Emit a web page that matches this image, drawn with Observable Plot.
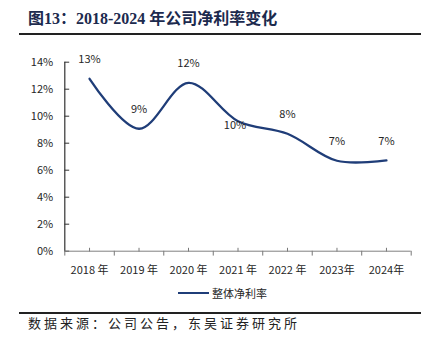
<!DOCTYPE html>
<html>
<head>
<meta charset="utf-8">
<script src="https://cdn.jsdelivr.net/npm/d3@7"></script>
<script src="https://cdn.jsdelivr.net/npm/@observablehq/plot@0.6"></script>
<style>
  html, body { margin: 0; padding: 0; background: #fff; }
  #wrap { position: relative; width: 428px; height: 351px; overflow: hidden; font-family: "Noto Sans CJK SC", "Noto Sans", sans-serif; }
  #title { position: absolute; left: 28px; top: 9px; line-height: 20px; font-size: 16px; font-weight: bold; color: #1c2a4e; font-family: "Liberation Serif", "Noto Sans CJK SC", serif; white-space: nowrap; }
  .rule { position: absolute; left: 19px; width: 402px; background: #222; }
  #chart { position: absolute; left: 0; top: 40px; }
  #legend { position: absolute; left: 178px; top: 285px; height: 16px; display: flex; align-items: center; font-size: 11px; color: #262626; white-space: nowrap; }
  #legend .sw { width: 31px; height: 2px; background: #1f3d78; margin-right: 3px; }
  #caption { position: absolute; left: 28px; top: 314px; line-height: 18px; font-size: 13px; letter-spacing: 3px; color: #222; white-space: nowrap; }
</style>
</head>
<body>
<div id="wrap">
  <div id="title">图13：2018-2024 年公司净利率变化</div>
  <div class="rule" style="top:33px;height:2px;"></div>
  <div id="chart"></div>
  <div id="legend"><div class="sw"></div><span>整体净利率</span></div>
  <div class="rule" style="top:312px;height:1.5px;"></div>
  <div id="caption">数据来源：公司公告，东吴证券研究所</div>
</div>
<script>
// ---- data ----
const years = [2018, 2019, 2020, 2021, 2022, 2023, 2024];
const xLabels = ["2018 年", "2019 年", "2020 年", "2021 年", "2022 年", "2023年", "2024年"];
const netMargin = [0.1277, 0.0907, 0.1247, 0.0963, 0.0870, 0.0670, 0.0672];
const valueLabels = ["13%", "9%", "12%", "10%", "8%", "7%", "7%"];
const yTicks = [0, 0.02, 0.04, 0.06, 0.08, 0.10, 0.12, 0.14];
const seriesName = "整体净利率";

const rows = years.map((y, i) => ({year: y, value: netMargin[i], label: valueLabels[i]}));
const boundaries = d3.range(years[0] - 0.5, years[years.length - 1] + 1, 1);

const lineColor = "#1f3d78";
const textColor = "#262626";
const tickShape = { draw(context, l) { context.moveTo(0, 0); context.lineTo(0, -l); } };

const chart = Plot.plot({
  width: 428,
  height: 245,
  marginLeft: 64.3,
  marginRight: 17.3,
  marginTop: 21.7,
  marginBottom: 34.3,
  style: { fontFamily: '"Noto Sans CJK SC", "Noto Sans", sans-serif', fontSize: "11px", color: textColor, background: "transparent" },
  x: { type: "linear", domain: [years[0] - 0.5, years[years.length - 1] + 0.5] },
  y: { domain: [0, 0.14] },
  marks: [
    // y axis labels
    Plot.axisY({ ticks: yTicks, tickFormat: d3.format(".0%"), tickSize: 0, tickPadding: 11.6, fontSize: 11, fill: textColor, label: null }),
    // y axis ticks (pointing inward)
    Plot.vector(yTicks, { x: boundaries[0], y: d => d, length: 4, rotate: 90, anchor: "start", shape: tickShape, stroke: "#333", strokeWidth: 1 }),
    // x axis labels
    Plot.axisX({ ticks: years, tickFormat: d => xLabels[years.indexOf(d)], tickSize: 0, tickPadding: 15, fontSize: 11, fill: textColor, label: null }),
    // x axis boundary ticks (down) and center ticks (up)
    Plot.vector(boundaries, { x: d => d, y: 0, length: 4, rotate: 180, anchor: "start", shape: tickShape, stroke: "#777", strokeWidth: 1 }),
    Plot.vector(years, { x: d => d, y: 0, length: 3, rotate: 0, anchor: "start", shape: tickShape, stroke: "#777", strokeWidth: 1 }),
    // axis lines
    Plot.ruleY([0], { stroke: "#808080", strokeWidth: 1 }),
    Plot.ruleX([boundaries[0]], { stroke: "#333", strokeWidth: 1.2 }),
    // line
    Plot.line(rows, { x: "year", y: "value", curve: "catmull-rom", stroke: lineColor, strokeWidth: 2.3 }),
    // data labels
    Plot.text(rows.filter(d => d.year !== 2021), { x: "year", y: "value", text: "label", dy: -19, fontSize: 11, fill: textColor }),
    Plot.text(rows.filter(d => d.year === 2021), { x: "year", y: "value", text: "label", dx: -3, dy: 4.5, fontSize: 11, fill: textColor })
  ]
});
document.getElementById("chart").appendChild(chart);
</script>
</body>
</html>
